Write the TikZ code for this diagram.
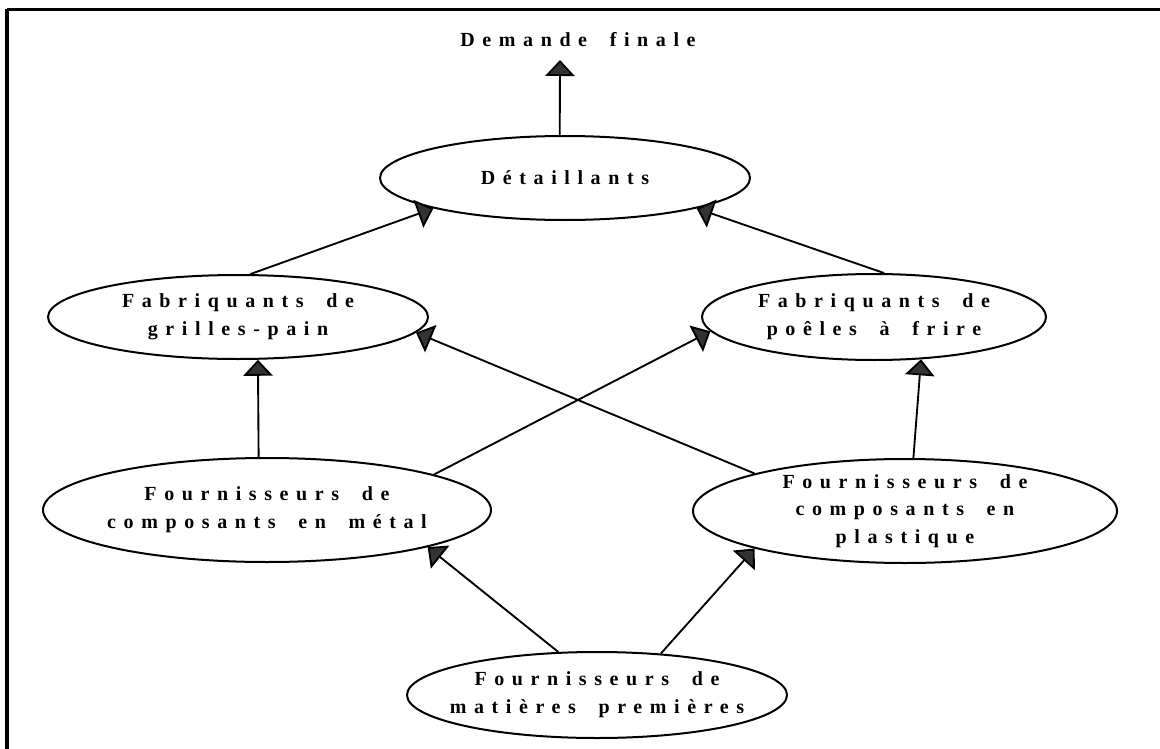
\documentclass[tikz,border=0pt]{standalone}
\usepackage{fontspec}
\newfontfamily\spaced{Liberation Serif}[LetterSpace=38,WordSpace=1.8]
\usetikzlibrary{arrows.meta,shapes.geometric}

\begin{document}
\begin{tikzpicture}[x=0.75pt,y=-0.75pt,
  box/.style={draw,ellipse,line width=1.5pt,inner sep=0pt},
  txt/.style={font=\spaced\bfseries\fontsize{15}{20.8}\selectfont,align=center,inner sep=0pt},
  link/.style={line width=1.4pt,-{Triangle[width=22pt,length=12pt,fill=black!80]}}]

  \useasboundingbox (0,0) rectangle (1160,749);

  % frame (top and left edges)
  \draw[line width=2.3pt] (7,9.5) -- (1160,9.5);
  \draw[line width=2.3pt] (7,9.5) -- (7,749);

  % final demand
  \node[txt] (dem) at (578,40) {Demande finale};
  \coordinate (demtip) at (560,60);

  % chain of actors
  \node[box,minimum width=277.5pt,minimum height=63pt,
        label={[txt]center:Détaillants}] (det) at (565,178) {};
  \node[box,minimum width=285pt,minimum height=63pt,
        label={[txt]center:{Fabriquants de\\grilles-pain}}] (gp) at (238,317) {};
  \node[box,minimum width=258pt,minimum height=64.5pt,
        label={[txt]center:{Fabriquants de\\poêles à frire}}] (pf) at (874,317) {};
  \node[box,minimum width=336pt,minimum height=78pt,
        label={[txt]center:{Fournisseurs de\\composants en métal}}] (cm) at (267,510) {};
  \node[box,minimum width=318pt,minimum height=78pt,
        label={[txt]center:{Fournisseurs de\\composants en\\plastique}}] (cp) at (905,511) {};
  \node[box,minimum width=285pt,minimum height=64.5pt,
        label={[txt]center:{Fournisseurs de\\matières premières}}] (mp) at (597,695) {};

  % flows
  \draw[link] (det.97) -- (demtip);
  \draw[link] (gp.74) -- (det.193.2);
  \draw[link] (pf.77.9) -- (det.347.2);
  \draw[link] (cm.99.8) -- (gp.295.6);
  \draw[link] (cp.81.3) -- (pf.318);
  \draw[link] (cm.12.5) -- (pf.185.7);
  \draw[link] (cp.166) -- (gp.355.2);
  \draw[link] (mp.132.9) -- (cm.347.5);
  \draw[link] (mp.33.1) -- (cp.194.1);
\end{tikzpicture}
\end{document}
